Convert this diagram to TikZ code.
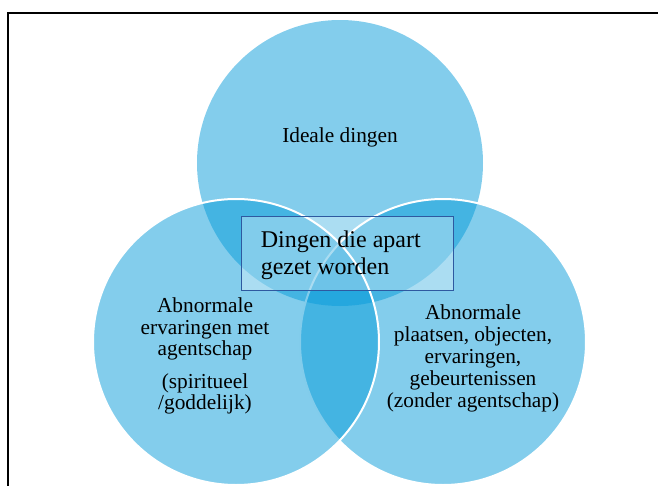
\documentclass[tikz,border=0pt]{standalone}
\usepackage{fontspec}
\setmainfont{Liberation Serif}
\usepackage{tikz}
\usetikzlibrary{positioning}

\definecolor{vennblue}{RGB}{7,155,217}
\definecolor{boxblue}{RGB}{46,89,160}

\begin{document}
\begin{tikzpicture}[x=0.75pt,y=-0.75pt,
    venn/.style={circle,inner sep=0pt,minimum size=214.5pt,fill=vennblue,fill opacity=0.5},
    rim/.style={draw=white,line width=1.5pt},
    apartbox/.style={rectangle,inner sep=0pt,minimum width=159pt,minimum height=55.5pt,draw=boxblue,line width=0.75pt,fill=white,fill opacity=0.33},
    venntext/.style={align=center,font=\fontsize{16}{16.2}\selectfont}]
      \useasboundingbox (0,0) rectangle (658,486);
      \draw[line width=1pt] (8,486) -- (8,13) -- (658,13);
      % the three sets
      \node[venn] (ideal) at (340,163) {};
      \node[venn,rim] (plaats) at (443,342) {};
      \node[venn,rim] (agent) at (236,342) {};
      % box on the middle
      \node[apartbox] (apart) at (347,253) {};
      \node[anchor=west,inner sep=0pt,align=left,font=\fontsize{18}{20.25}\selectfont] (apartlabel) at ([xshift=15pt,yshift=-1.5pt]apart.west) {Dingen die apart\\gezet worden};
      \node[venntext,anchor=base] (idealtext) at (340,142) {Ideale dingen};
      \node[venntext] (agenttext) at (205,356) {Abnormale\\ervaringen met\\agentschap\\[8pt](spiritueel\\/goddelijk)};
      \node[venntext,font=\fontsize{16}{16.5}\selectfont] (plaatstext) at (473,358) {Abnormale\\plaatsen, objecten,\\ervaringen,\\gebeurtenissen\\(zonder agentschap)};
\end{tikzpicture}
\end{document}
